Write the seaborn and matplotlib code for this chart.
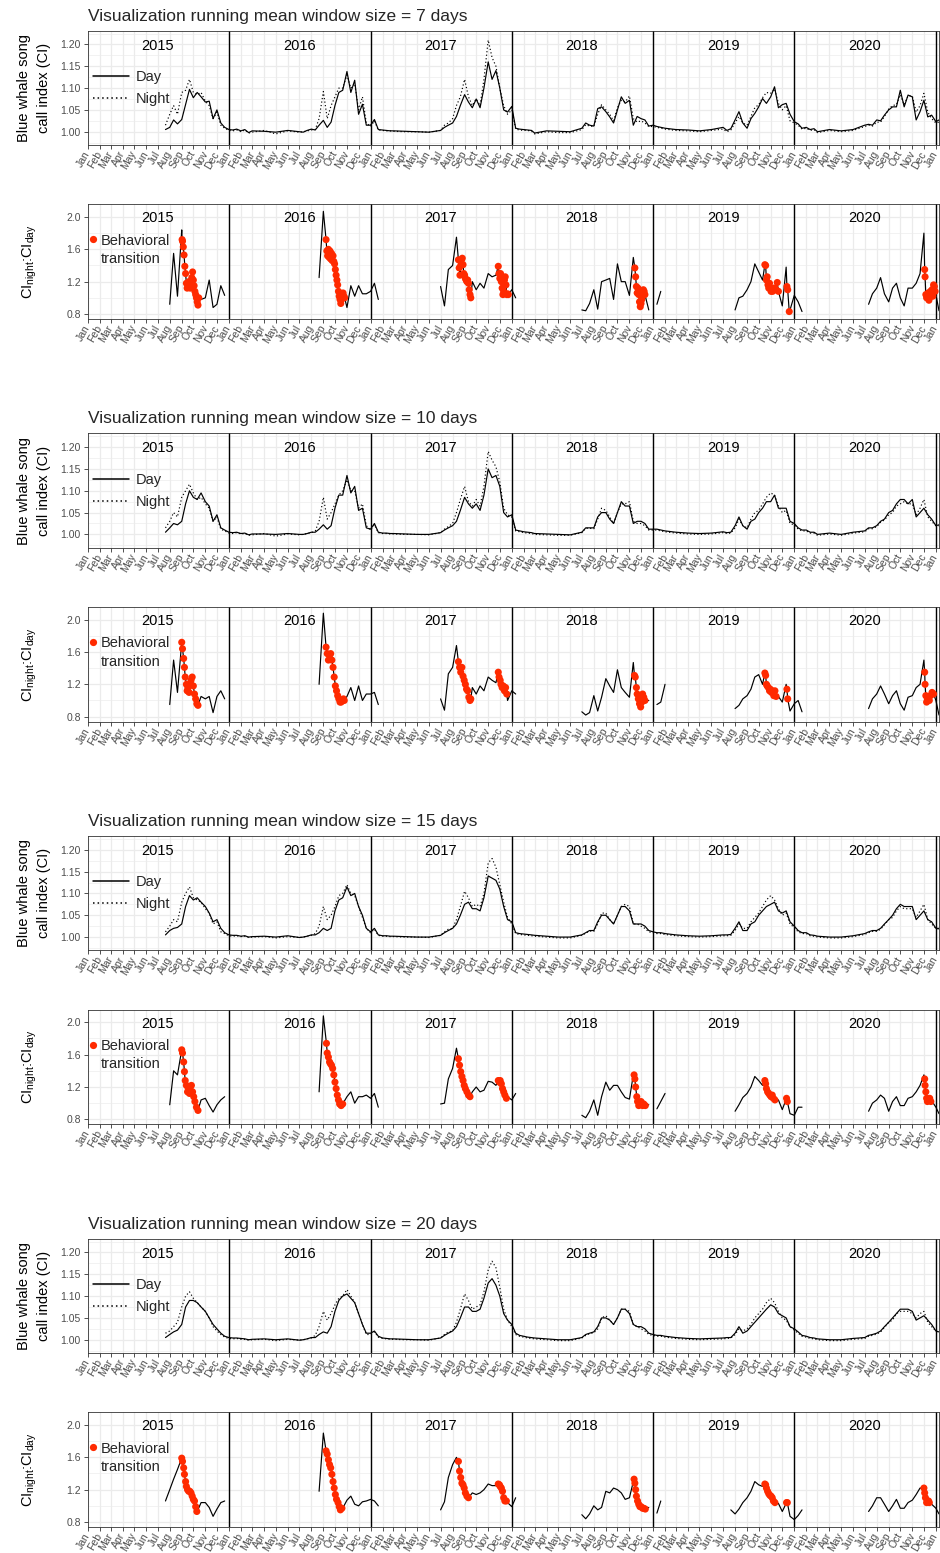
import numpy as np
import pandas as pd
import matplotlib
matplotlib.use("Agg")
import matplotlib.pyplot as plt
import matplotlib.dates as mdates
from matplotlib.lines import Line2D
from matplotlib.ticker import FormatStrFormatter
import seaborn as sns

N = np.nan
years = [2015, 2016, 2017, 2018, 2019, 2020]
grid_md = ["01-01", "01-11", "01-21", "02-01", "02-11", "02-21", "03-01", "04-01", "05-01", "06-01",
           "07-01", "07-11", "07-21", "08-01", "08-11", "08-21", "09-01", "09-11", "09-21",
           "10-01", "10-11", "10-21", "11-01", "11-11", "11-21", "12-01", "12-11", "12-21"]
grid_dates = [f"{y}-{md}" for y in years for md in grid_md] + ["2021-01-01", "2021-01-09"]
windows = [7, 10, 15, 20]
ci_ticks = [1.00, 1.05, 1.10, 1.15, 1.20]
ci_minor = [0.975, 1.025, 1.075, 1.125, 1.175, 1.225]
ratio_ticks = [0.8, 1.2, 1.6, 2.0]
ratio_minor = [1.0, 1.4, 1.8]

# ---------------- window 7 ----------------
day7 = ([N] * 12 + [1.005, 1.010, 1.027, 1.018, 1.028, 1.062, 1.097, 1.078, 1.090, 1.080, 1.068, 1.070, 1.030, 1.050, 1.020, 1.010] +
        [1.005, 1.004, 1.006, 1.002, 1.005, 0.998, 1.002, 1.001, 0.999, 1.003, 1.000, 0.999, 1.003, 1.006, 1.004, 1.015, 1.026, 1.010, 1.022, 1.060, 1.090, 1.095, 1.138, 1.090, 1.118, 1.040, 1.063, 1.015] +
        [1.015, 1.028, 1.005, 1.004, 1.003, 1.002, 1.002, 1.001, 1.000, 0.999, 1.003, 1.010, 1.015, 1.020, 1.035, 1.060, 1.085, 1.068, 1.055, 1.075, 1.055, 1.100, 1.160, 1.120, 1.140, 1.100, 1.050, 1.045] +
        [1.058, 1.008, 1.006, 1.005, 1.004, 1.003, 0.997, 1.002, 1.001, 1.000, 1.008, 1.020, 1.015, 1.013, 1.053, 1.057, 1.046, 1.034, 1.020, 1.050, 1.080, 1.065, 1.072, 1.015, 1.035, 1.030, 1.027, 1.013] +
        [1.015, 1.012, 1.010, 1.008, 1.007, 1.006, 1.005, 1.004, 1.002, 1.005, 1.010, 1.003, 1.007, 1.027, 1.046, 1.020, 1.008, 1.030, 1.042, 1.057, 1.076, 1.065, 1.080, 1.103, 1.055, 1.062, 1.065, 1.040] +
        [1.023, 1.018, 1.008, 1.010, 1.005, 1.007, 1.000, 1.005, 1.002, 1.005, 1.015, 1.017, 1.015, 1.027, 1.025, 1.038, 1.050, 1.057, 1.057, 1.095, 1.057, 1.084, 1.080, 1.027, 1.046, 1.072, 1.034, 1.038] +
        [1.023, 1.027])
night7 = ([N] * 12 + [1.015, 1.040, 1.060, 1.040, 1.090, 1.095, 1.120, 1.090, 1.085, 1.090, 1.070, 1.060, 1.030, 1.045, 1.015, 1.008] +
          [1.003, 1.002, 1.004, 1.000, 1.004, 0.997, 0.999, 1.003, 0.995, 1.002, 0.999, 1.000, 1.002, 1.004, 1.005, 1.030, 1.092, 1.030, 1.060, 1.080, 1.100, 1.100, 1.130, 1.100, 1.110, 1.050, 1.080, 1.020] +
          [1.012, 1.025, 1.004, 1.003, 1.002, 1.002, 1.001, 1.000, 1.000, 0.999, 1.003, 1.015, 1.020, 1.030, 1.060, 1.080, 1.120, 1.080, 1.060, 1.075, 1.060, 1.120, 1.210, 1.170, 1.150, 1.100, 1.060, 1.040] +
          [1.050, 1.006, 1.004, 1.003, 1.003, 1.001, 0.995, 1.000, 0.998, 0.998, 1.005, 1.016, 1.013, 1.012, 1.040, 1.062, 1.050, 1.040, 1.025, 1.055, 1.072, 1.068, 1.082, 1.030, 1.022, 1.025, 1.020, 1.012] +
          [1.012, 1.010, 1.008, 1.006, 1.005, 1.004, 1.003, 1.002, 1.000, 1.003, 1.006, 1.000, 1.004, 1.020, 1.035, 1.020, 1.015, 1.035, 1.055, 1.062, 1.078, 1.090, 1.088, 1.098, 1.065, 1.050, 1.060, 1.025] +
          [1.020, 1.015, 1.006, 1.008, 1.003, 1.005, 0.998, 1.003, 1.000, 1.003, 1.012, 1.015, 1.013, 1.022, 1.022, 1.035, 1.052, 1.060, 1.062, 1.085, 1.062, 1.082, 1.082, 1.045, 1.060, 1.088, 1.045, 1.030] +
          [1.020, 1.022])
ratio7 = ([N] * 13 + [0.92, 1.55, 1.02, 1.84, 1.30, 1.15, 1.22, 0.95, 0.98, 1.00, 1.22, 0.88, 0.92, 1.15, 1.03] +
          [N] * 15 + [1.25, 2.07, 1.58, 1.50, 1.40, 1.05, 1.04, 0.88, 1.15, 1.02, 1.15, 1.05, 1.05] +
          [1.08, 1.18, 0.98] + [N] * 7 + [1.14, 0.90, 1.35, 1.40, 1.75, 1.32, 1.28, 1.18, 1.20, 1.10, 1.18, 1.12, 1.30, 1.26, 1.28, 1.24, 1.08, 1.05] +
          [1.10, 1.00] + [N] * 8 + [0.85, 0.84, 0.93, 1.10, 0.86, 1.20, 1.22, 1.24, 0.98, 1.42, 1.20, 1.20, 1.03, 1.50, 1.06, 0.93, 1.04, 0.85] +
          [N, 0.92, 1.08] + [N] * 10 + [0.85, 1.00, 1.02, 1.10, 1.20, 1.42, 1.32, 1.22, 1.22, 1.10, 1.12, 1.08, 0.90, 1.38, 0.85] +
          [1.03, 0.95, 0.83] + [N] * 8 + [0.92, 1.05, 1.12, 1.25, 1.05, 0.95, 1.12, 1.18, 1.00, 0.90, 1.12, 1.12, 1.18, 1.30, 1.80, 1.04, 1.05] +
          [1.04, 0.84])
red7 = [("2015-09-02", 1.72), ("2015-09-03", 1.70), ("2015-09-05", 1.63), ("2015-09-07", 1.53), ("2015-09-09", 1.39),
        ("2015-09-11", 1.30), ("2015-09-13", 1.18), ("2015-09-15", 1.12), ("2015-09-17", 1.16), ("2015-09-19", 1.20),
        ("2015-09-21", 1.15), ("2015-09-23", 1.12), ("2015-09-25", 1.18), ("2015-09-27", 1.25), ("2015-09-29", 1.32),
        ("2015-10-01", 1.22), ("2015-10-03", 1.15), ("2015-10-05", 1.08), ("2015-10-07", 1.04), ("2015-10-09", 1.00),
        ("2015-10-11", 0.95), ("2015-10-13", 0.91), ("2015-10-15", 1.00),
        ("2016-09-08", 1.72), ("2016-09-10", 1.58), ("2016-09-12", 1.52), ("2016-09-14", 1.60), ("2016-09-16", 1.50),
        ("2016-09-18", 1.58), ("2016-09-20", 1.48), ("2016-09-22", 1.55), ("2016-09-24", 1.46), ("2016-09-26", 1.52),
        ("2016-09-28", 1.45), ("2016-09-30", 1.42), ("2016-10-02", 1.35), ("2016-10-04", 1.28), ("2016-10-06", 1.22),
        ("2016-10-08", 1.16), ("2016-10-10", 1.08), ("2016-10-12", 1.02), ("2016-10-14", 0.98), ("2016-10-16", 0.93),
        ("2016-10-18", 0.98), ("2016-10-20", 1.04), ("2016-10-22", 1.06), ("2016-10-24", 1.02), ("2016-10-26", 1.00),
        ("2017-08-16", 1.47), ("2017-08-18", 1.37), ("2017-08-20", 1.28), ("2017-08-22", 1.40), ("2017-08-24", 1.47),
        ("2017-08-26", 1.49), ("2017-08-28", 1.41), ("2017-08-30", 1.30), ("2017-09-01", 1.28), ("2017-09-03", 1.24),
        ("2017-09-05", 1.22), ("2017-09-07", 1.20), ("2017-09-09", 1.22), ("2017-09-11", 1.18), ("2017-09-13", 1.10),
        ("2017-09-15", 1.04), ("2017-09-17", 1.00),
        ("2017-11-27", 1.39), ("2017-11-29", 1.30), ("2017-12-01", 1.24), ("2017-12-03", 1.30), ("2017-12-05", 1.20),
        ("2017-12-07", 1.12), ("2017-12-09", 1.04), ("2017-12-11", 1.08), ("2017-12-13", 1.22), ("2017-12-15", 1.26),
        ("2017-12-17", 1.16), ("2017-12-19", 1.04), ("2017-12-21", 1.05), ("2017-12-23", 1.04),
        ("2018-11-15", 1.37), ("2018-11-17", 1.26), ("2018-11-19", 1.14), ("2018-11-21", 1.06), ("2018-11-23", 1.12),
        ("2018-11-25", 1.04), ("2018-11-27", 0.95), ("2018-11-29", 0.89), ("2018-12-01", 0.93), ("2018-12-03", 0.98),
        ("2018-12-05", 1.08), ("2018-12-07", 1.10), ("2018-12-09", 1.08), ("2018-12-11", 1.04),
        ("2019-10-17", 1.41), ("2019-10-19", 1.40), ("2019-10-21", 1.22), ("2019-10-23", 1.26), ("2019-10-25", 1.16),
        ("2019-10-27", 1.12), ("2019-10-29", 1.18), ("2019-10-31", 1.12), ("2019-11-02", 1.08), ("2019-11-04", 1.10),
        ("2019-11-06", 1.08), ("2019-11-08", 1.12), ("2019-11-10", 1.10), ("2019-11-12", 1.12), ("2019-11-15", 1.10),
        ("2019-11-18", 1.19), ("2019-11-21", 1.08), ("2019-12-13", 1.14), ("2019-12-15", 1.10), ("2019-12-19", 0.83),
        ("2020-12-03", 1.35), ("2020-12-04", 1.26), ("2020-12-06", 1.04), ("2020-12-08", 1.00), ("2020-12-10", 1.02),
        ("2020-12-12", 1.06), ("2020-12-14", 0.97), ("2020-12-16", 1.04), ("2020-12-18", 1.08), ("2020-12-20", 1.02),
        ("2020-12-22", 1.10), ("2020-12-24", 1.02), ("2020-12-26", 1.16), ("2020-12-28", 1.14), ("2020-12-30", 1.08)]

# ---------------- window 10 ----------------
day10 = ([N] * 12 + [1.005, 1.015, 1.025, 1.022, 1.030, 1.070, 1.100, 1.085, 1.080, 1.095, 1.075, 1.065, 1.030, 1.045, 1.015, 1.010] +
         [1.005, 1.004, 1.005, 1.002, 1.003, 0.999, 1.001, 1.001, 1.000, 1.002, 1.000, 1.000, 1.002, 1.005, 1.005, 1.012, 1.022, 1.012, 1.020, 1.060, 1.090, 1.090, 1.135, 1.095, 1.110, 1.055, 1.060, 1.015] +
         [1.012, 1.025, 1.005, 1.003, 1.003, 1.002, 1.002, 1.001, 1.000, 1.000, 1.004, 1.010, 1.015, 1.020, 1.030, 1.055, 1.085, 1.070, 1.060, 1.070, 1.055, 1.090, 1.150, 1.130, 1.135, 1.110, 1.050, 1.040] +
         [1.045, 1.010, 1.008, 1.006, 1.005, 1.004, 1.002, 1.001, 1.000, 0.999, 1.005, 1.015, 1.015, 1.015, 1.040, 1.050, 1.050, 1.035, 1.025, 1.050, 1.075, 1.065, 1.065, 1.025, 1.030, 1.030, 1.025, 1.012] +
         [1.012, 1.012, 1.010, 1.008, 1.007, 1.006, 1.005, 1.003, 1.002, 1.003, 1.006, 1.004, 1.005, 1.020, 1.040, 1.020, 1.012, 1.030, 1.035, 1.050, 1.060, 1.075, 1.075, 1.090, 1.060, 1.060, 1.060, 1.030] +
         [1.025, 1.015, 1.010, 1.010, 1.005, 1.005, 1.000, 1.003, 1.000, 1.005, 1.008, 1.015, 1.015, 1.020, 1.030, 1.035, 1.050, 1.055, 1.070, 1.080, 1.080, 1.070, 1.080, 1.040, 1.050, 1.060, 1.045, 1.035] +
         [1.020, 1.022])
night10 = ([N] * 12 + [1.015, 1.030, 1.050, 1.040, 1.085, 1.100, 1.115, 1.095, 1.080, 1.085, 1.070, 1.060, 1.030, 1.040, 1.012, 1.008] +
           [1.003, 1.002, 1.004, 1.001, 1.002, 0.998, 0.999, 1.002, 0.996, 1.001, 0.999, 1.000, 1.002, 1.004, 1.008, 1.030, 1.085, 1.035, 1.050, 1.070, 1.090, 1.100, 1.125, 1.100, 1.100, 1.060, 1.070, 1.020] +
           [1.010, 1.022, 1.004, 1.002, 1.002, 1.001, 1.001, 1.000, 1.000, 0.999, 1.004, 1.012, 1.018, 1.025, 1.050, 1.080, 1.110, 1.075, 1.065, 1.080, 1.065, 1.110, 1.190, 1.170, 1.155, 1.120, 1.060, 1.045] +
           [1.040, 1.008, 1.006, 1.004, 1.003, 1.002, 1.000, 0.999, 0.998, 0.998, 1.004, 1.014, 1.014, 1.013, 1.035, 1.060, 1.055, 1.040, 1.025, 1.050, 1.070, 1.070, 1.075, 1.030, 1.025, 1.025, 1.020, 1.010] +
           [1.010, 1.010, 1.008, 1.006, 1.005, 1.004, 1.003, 1.001, 1.000, 1.001, 1.004, 1.002, 1.003, 1.015, 1.035, 1.020, 1.015, 1.035, 1.050, 1.055, 1.070, 1.085, 1.095, 1.090, 1.065, 1.050, 1.055, 1.025] +
           [1.022, 1.012, 1.008, 1.008, 1.003, 1.003, 0.998, 1.001, 0.998, 1.003, 1.006, 1.013, 1.013, 1.018, 1.028, 1.033, 1.045, 1.050, 1.065, 1.070, 1.075, 1.070, 1.070, 1.045, 1.060, 1.080, 1.040, 1.030] +
           [1.020, 1.020])
ratio10 = ([N] * 13 + [0.95, 1.50, 1.10, 1.74, 1.26, 1.12, 1.18, 0.95, 1.05, 1.02, 1.05, 0.85, 1.05, 1.12, 1.02] +
           [N] * 15 + [1.20, 2.08, 1.58, 1.55, 1.22, 1.02, 1.00, 1.05, 1.16, 1.00, 1.18, 1.00, 1.08] +
           [1.08, 1.10, 0.95] + [N] * 7 + [1.02, 0.88, 1.33, 1.41, 1.68, 1.38, 1.28, 1.10, 1.16, 1.08, 1.18, 1.12, 1.29, 1.25, 1.22, 1.26, 1.16, 1.00] +
           [1.12, 1.08] + [N] * 8 + [0.86, 0.82, 0.85, 1.06, 0.87, 1.04, 1.27, 1.18, 1.10, 1.38, 1.16, 1.10, 1.04, 1.47, 1.08, 0.94, 1.00, 1.00] +
           [N, 0.95, 0.98, 1.20] + [N] * 9 + [0.90, 0.94, 1.02, 1.06, 1.14, 1.29, 1.32, 1.20, 1.20, 1.14, 1.12, 1.05, 0.98, 1.20, 0.87] +
           [0.96, 1.00, 0.86] + [N] * 8 + [0.90, 1.02, 1.08, 1.18, 1.08, 0.96, 1.06, 1.12, 0.96, 0.88, 1.04, 1.06, 1.16, 1.20, 1.50, 1.03, 1.08] +
           [1.00, 0.82])
red10 = [("2015-09-01", 1.72), ("2015-09-03", 1.64), ("2015-09-06", 1.52), ("2015-09-08", 1.41), ("2015-09-10", 1.29),
         ("2015-09-13", 1.20), ("2015-09-15", 1.12), ("2015-09-17", 1.16), ("2015-09-20", 1.10), ("2015-09-22", 1.20),
         ("2015-09-25", 1.25), ("2015-09-28", 1.29), ("2015-10-01", 1.18), ("2015-10-04", 1.08), ("2015-10-07", 1.02),
         ("2015-10-10", 0.96), ("2015-10-13", 0.94),
         ("2016-09-08", 1.66), ("2016-09-11", 1.58), ("2016-09-14", 1.50), ("2016-09-17", 1.56), ("2016-09-20", 1.58),
         ("2016-09-23", 1.50), ("2016-09-26", 1.41), ("2016-09-29", 1.29), ("2016-10-02", 1.18), ("2016-10-05", 1.12),
         ("2016-10-08", 1.06), ("2016-10-11", 1.02), ("2016-10-14", 0.98), ("2016-10-17", 0.98), ("2016-10-20", 1.00),
         ("2016-10-23", 1.02), ("2016-10-25", 1.00),
         ("2017-08-16", 1.48), ("2017-08-19", 1.41), ("2017-08-22", 1.35), ("2017-08-25", 1.41), ("2017-08-28", 1.30),
         ("2017-08-31", 1.25), ("2017-09-03", 1.20), ("2017-09-06", 1.14), ("2017-09-09", 1.12), ("2017-09-12", 1.04),
         ("2017-09-15", 1.00), ("2017-09-17", 1.02),
         ("2017-11-27", 1.35), ("2017-11-29", 1.29), ("2017-12-02", 1.25), ("2017-12-04", 1.20), ("2017-12-07", 1.16),
         ("2017-12-10", 1.18), ("2017-12-13", 1.12), ("2017-12-16", 1.16), ("2017-12-19", 1.08),
         ("2018-11-14", 1.31), ("2018-11-16", 1.29), ("2018-11-19", 1.16), ("2018-11-21", 1.08), ("2018-11-24", 1.02),
         ("2018-11-27", 0.96), ("2018-11-30", 0.92), ("2018-12-03", 0.98), ("2018-12-05", 1.08), ("2018-12-08", 1.04),
         ("2018-12-11", 1.00),
         ("2019-10-17", 1.34), ("2019-10-19", 1.31), ("2019-10-21", 1.20), ("2019-10-23", 1.18), ("2019-10-26", 1.16),
         ("2019-10-29", 1.12), ("2019-10-31", 1.14), ("2019-11-03", 1.10), ("2019-11-05", 1.12), ("2019-11-09", 1.06),
         ("2019-11-12", 1.12), ("2019-11-15", 1.05), ("2019-12-13", 1.14), ("2019-12-15", 1.02),
         ("2020-12-03", 1.35), ("2020-12-04", 1.20), ("2020-12-06", 1.06), ("2020-12-08", 0.98), ("2020-12-10", 1.02),
         ("2020-12-12", 1.04), ("2020-12-15", 1.00), ("2020-12-18", 1.06), ("2020-12-22", 1.10), ("2020-12-26", 1.08)]

# ---------------- window 15 ----------------
day15 = ([N] * 12 + [1.005, 1.015, 1.020, 1.022, 1.030, 1.070, 1.095, 1.085, 1.090, 1.080, 1.070, 1.055, 1.035, 1.040, 1.020, 1.010] +
         [1.005, 1.004, 1.004, 1.002, 1.003, 1.000, 1.001, 1.002, 1.000, 1.003, 0.999, 1.000, 1.002, 1.005, 1.005, 1.010, 1.020, 1.015, 1.020, 1.060, 1.085, 1.090, 1.115, 1.095, 1.100, 1.070, 1.050, 1.020] +
         [1.012, 1.020, 1.005, 1.003, 1.003, 1.002, 1.002, 1.001, 1.000, 1.000, 1.004, 1.010, 1.015, 1.020, 1.030, 1.050, 1.075, 1.080, 1.065, 1.065, 1.060, 1.090, 1.140, 1.135, 1.130, 1.110, 1.070, 1.040] +
         [1.035, 1.010, 1.008, 1.007, 1.006, 1.005, 1.004, 1.002, 1.000, 1.000, 1.005, 1.010, 1.015, 1.015, 1.035, 1.050, 1.050, 1.040, 1.030, 1.050, 1.070, 1.070, 1.060, 1.030, 1.030, 1.030, 1.025, 1.015] +
         [1.012, 1.010, 1.010, 1.008, 1.007, 1.006, 1.005, 1.003, 1.002, 1.003, 1.005, 1.005, 1.006, 1.020, 1.035, 1.015, 1.015, 1.030, 1.035, 1.050, 1.060, 1.070, 1.075, 1.080, 1.060, 1.055, 1.060, 1.035] +
         [1.025, 1.015, 1.010, 1.010, 1.005, 1.004, 1.002, 1.000, 1.000, 1.003, 1.008, 1.012, 1.015, 1.015, 1.020, 1.030, 1.040, 1.050, 1.065, 1.075, 1.070, 1.070, 1.070, 1.040, 1.050, 1.060, 1.040, 1.035] +
         [1.020, 1.020])
night15 = ([N] * 12 + [1.012, 1.025, 1.040, 1.035, 1.080, 1.100, 1.115, 1.090, 1.085, 1.080, 1.065, 1.055, 1.030, 1.035, 1.012, 1.008] +
           [1.003, 1.002, 1.003, 1.001, 1.002, 0.999, 1.000, 1.001, 0.998, 1.001, 0.999, 1.000, 1.002, 1.004, 1.008, 1.025, 1.070, 1.040, 1.050, 1.070, 1.095, 1.100, 1.120, 1.100, 1.095, 1.070, 1.045, 1.020] +
           [1.010, 1.018, 1.004, 1.002, 1.002, 1.001, 1.001, 1.000, 1.000, 0.999, 1.004, 1.012, 1.018, 1.020, 1.040, 1.070, 1.105, 1.090, 1.070, 1.075, 1.070, 1.100, 1.170, 1.180, 1.160, 1.120, 1.080, 1.045] +
           [1.030, 1.008, 1.006, 1.005, 1.004, 1.003, 1.002, 1.000, 0.998, 0.998, 1.004, 1.009, 1.014, 1.013, 1.030, 1.055, 1.055, 1.040, 1.030, 1.050, 1.070, 1.075, 1.070, 1.030, 1.030, 1.025, 1.020, 1.012] +
           [1.010, 1.008, 1.008, 1.006, 1.005, 1.004, 1.003, 1.001, 1.000, 1.001, 1.003, 1.003, 1.004, 1.015, 1.030, 1.020, 1.020, 1.035, 1.045, 1.055, 1.070, 1.085, 1.095, 1.085, 1.065, 1.050, 1.055, 1.030] +
           [1.022, 1.012, 1.008, 1.008, 1.003, 1.002, 1.000, 0.998, 0.998, 1.001, 1.006, 1.010, 1.013, 1.013, 1.018, 1.028, 1.040, 1.045, 1.060, 1.070, 1.065, 1.065, 1.065, 1.045, 1.060, 1.075, 1.040, 1.030] +
           [1.020, 1.018])
ratio15 = ([N] * 13 + [0.98, 1.40, 1.35, 1.66, 1.26, 1.12, 1.12, 0.95, 1.04, 1.06, 0.97, 0.89, 0.98, 1.04, 1.08] +
           [N] * 15 + [1.14, 2.08, 1.62, 1.47, 1.26, 1.04, 0.99, 1.08, 1.14, 1.00, 1.08, 1.08, 1.10] +
           [1.06, 1.12, 0.95] + [N] * 7 + [0.99, 1.00, 1.30, 1.43, 1.68, 1.37, 1.20, 1.10, 1.14, 1.20, 1.14, 1.16, 1.27, 1.26, 1.22, 1.27, 1.14, 1.08] +
           [1.04, 1.12] + [N] * 8 + [0.85, 0.82, 0.90, 1.04, 0.85, 1.08, 1.26, 1.16, 1.22, 1.22, 1.14, 1.07, 1.05, 1.35, 1.05, 1.02, 0.98, 0.98] +
           [N, 0.93, 1.02, 1.12] + [N] * 9 + [0.90, 0.98, 1.07, 1.12, 1.20, 1.33, 1.28, 1.22, 1.24, 1.12, 1.09, 1.04, 0.92, 1.05, 0.87] +
           [0.85, 0.95, 0.95] + [N] * 8 + [0.90, 1.00, 1.04, 1.10, 1.06, 0.90, 1.02, 1.08, 0.97, 0.97, 1.06, 1.08, 1.14, 1.22, 1.35, 1.04, 1.03] +
           [0.95, 0.87])
red15 = [("2015-09-01", 1.66), ("2015-09-03", 1.62), ("2015-09-06", 1.51), ("2015-09-08", 1.39), ("2015-09-10", 1.28),
         ("2015-09-13", 1.22), ("2015-09-16", 1.14), ("2015-09-18", 1.18), ("2015-09-21", 1.12), ("2015-09-23", 1.20),
         ("2015-09-26", 1.22), ("2015-09-29", 1.14), ("2015-10-02", 1.08), ("2015-10-05", 1.02), ("2015-10-09", 0.95),
         ("2015-10-13", 0.91),
         ("2016-09-09", 1.74), ("2016-09-11", 1.62), ("2016-09-14", 1.57), ("2016-09-17", 1.51), ("2016-09-19", 1.49),
         ("2016-09-22", 1.47), ("2016-09-25", 1.43), ("2016-09-28", 1.35), ("2016-10-01", 1.26), ("2016-10-04", 1.18),
         ("2016-10-07", 1.10), ("2016-10-10", 1.04), ("2016-10-13", 0.99), ("2016-10-17", 0.97), ("2016-10-21", 0.99),
         ("2017-08-16", 1.55), ("2017-08-19", 1.47), ("2017-08-22", 1.39), ("2017-08-25", 1.33), ("2017-08-28", 1.28),
         ("2017-08-31", 1.22), ("2017-09-03", 1.18), ("2017-09-07", 1.14), ("2017-09-11", 1.10), ("2017-09-15", 1.08),
         ("2017-11-27", 1.28), ("2017-11-30", 1.26), ("2017-12-02", 1.28), ("2017-12-05", 1.24), ("2017-12-08", 1.18),
         ("2017-12-11", 1.14), ("2017-12-14", 1.10), ("2017-12-18", 1.06),
         ("2018-11-13", 1.35), ("2018-11-15", 1.30), ("2018-11-17", 1.20), ("2018-11-20", 1.08), ("2018-11-22", 1.02),
         ("2018-11-25", 0.97), ("2018-11-28", 0.99), ("2018-12-01", 1.02), ("2018-12-05", 0.97), ("2018-12-08", 0.99),
         ("2018-12-12", 0.97),
         ("2019-10-17", 1.28), ("2019-10-19", 1.24), ("2019-10-21", 1.18), ("2019-10-24", 1.14), ("2019-10-27", 1.12),
         ("2019-10-30", 1.10), ("2019-11-02", 1.08), ("2019-11-05", 1.10), ("2019-11-08", 1.06), ("2019-11-12", 1.04),
         ("2019-12-12", 1.06), ("2019-12-14", 1.02),
         ("2020-12-03", 1.30), ("2020-12-04", 1.22), ("2020-12-06", 1.14), ("2020-12-08", 1.06), ("2020-12-10", 1.02),
         ("2020-12-13", 1.04), ("2020-12-16", 1.06), ("2020-12-19", 1.02)]

# ---------------- window 20 ----------------
day20 = ([N] * 12 + [1.005, 1.012, 1.018, 1.022, 1.035, 1.075, 1.090, 1.090, 1.085, 1.075, 1.065, 1.050, 1.035, 1.025, 1.015, 1.008] +
         [1.005, 1.004, 1.004, 1.003, 1.002, 1.000, 1.001, 1.002, 1.000, 1.002, 0.999, 1.000, 1.002, 1.005, 1.005, 1.012, 1.018, 1.015, 1.030, 1.065, 1.090, 1.100, 1.105, 1.095, 1.085, 1.060, 1.035, 1.015] +
         [1.015, 1.020, 1.008, 1.004, 1.003, 1.002, 1.002, 1.001, 1.000, 1.000, 1.004, 1.010, 1.015, 1.020, 1.030, 1.050, 1.075, 1.075, 1.065, 1.065, 1.070, 1.095, 1.130, 1.140, 1.125, 1.100, 1.060, 1.045] +
         [1.035, 1.015, 1.010, 1.008, 1.006, 1.005, 1.004, 1.002, 1.000, 1.000, 1.005, 1.012, 1.015, 1.018, 1.030, 1.050, 1.050, 1.045, 1.035, 1.050, 1.070, 1.070, 1.060, 1.035, 1.030, 1.030, 1.025, 1.015] +
         [1.012, 1.010, 1.010, 1.008, 1.007, 1.006, 1.005, 1.003, 1.002, 1.003, 1.004, 1.005, 1.005, 1.015, 1.030, 1.015, 1.020, 1.030, 1.040, 1.050, 1.060, 1.070, 1.080, 1.075, 1.060, 1.055, 1.050, 1.030] +
         [1.025, 1.018, 1.010, 1.008, 1.005, 1.004, 1.002, 1.000, 1.000, 1.003, 1.005, 1.010, 1.012, 1.015, 1.020, 1.030, 1.040, 1.050, 1.060, 1.070, 1.070, 1.070, 1.065, 1.045, 1.050, 1.055, 1.045, 1.035] +
         [1.020, 1.018])
night20 = ([N] * 12 + [1.015, 1.020, 1.030, 1.040, 1.075, 1.100, 1.110, 1.095, 1.085, 1.075, 1.065, 1.050, 1.030, 1.020, 1.012, 1.006] +
           [1.003, 1.002, 1.003, 1.001, 1.001, 0.999, 1.000, 1.001, 0.998, 1.001, 0.999, 1.000, 1.002, 1.004, 1.010, 1.030, 1.065, 1.045, 1.060, 1.080, 1.095, 1.100, 1.115, 1.100, 1.085, 1.060, 1.035, 1.012] +
           [1.012, 1.018, 1.006, 1.003, 1.002, 1.001, 1.001, 1.000, 1.000, 0.999, 1.004, 1.012, 1.018, 1.020, 1.040, 1.070, 1.105, 1.090, 1.070, 1.075, 1.080, 1.110, 1.160, 1.180, 1.165, 1.120, 1.070, 1.045] +
           [1.030, 1.012, 1.008, 1.006, 1.004, 1.003, 1.002, 1.000, 0.998, 0.998, 1.004, 1.010, 1.014, 1.016, 1.025, 1.050, 1.055, 1.045, 1.035, 1.050, 1.070, 1.070, 1.065, 1.035, 1.030, 1.025, 1.020, 1.012] +
           [1.010, 1.008, 1.008, 1.006, 1.005, 1.004, 1.003, 1.001, 1.000, 1.001, 1.002, 1.003, 1.004, 1.012, 1.025, 1.020, 1.025, 1.035, 1.050, 1.060, 1.070, 1.085, 1.095, 1.085, 1.065, 1.050, 1.045, 1.030] +
           [1.022, 1.015, 1.008, 1.006, 1.003, 1.002, 1.000, 0.998, 0.998, 1.001, 1.003, 1.008, 1.010, 1.013, 1.018, 1.028, 1.040, 1.045, 1.060, 1.065, 1.065, 1.065, 1.060, 1.050, 1.060, 1.065, 1.040, 1.030] +
           [1.020, 1.016])
ratio20 = ([N] * 12 + [1.06, 1.20, 1.33, 1.45, 1.59, 1.30, 1.18, 1.08, 0.93, 1.04, 1.04, 0.98, 0.87, 0.96, 1.04, 1.06] +
           [N] * 15 + [1.18, 1.90, 1.64, 1.47, 1.22, 1.02, 0.97, 1.07, 1.12, 1.02, 1.00, 1.05, 1.06] +
           [1.08, 1.06, 1.00] + [N] * 7 + [0.95, 1.05, 1.35, 1.51, 1.60, 1.35, 1.20, 1.10, 1.16, 1.14, 1.16, 1.20, 1.27, 1.25, 1.25, 1.24, 1.10, 1.04] +
           [0.99, 1.10] + [N] * 8 + [0.89, 0.84, 0.90, 1.00, 0.95, 0.98, 1.18, 1.16, 1.22, 1.20, 1.16, 1.08, 1.10, 1.30, 1.06, 0.99, 0.97, 0.98] +
           [N, 0.91, 1.06] + [N] * 9 + [0.95, 0.90, 0.96, 1.04, 1.10, 1.18, 1.30, 1.26, 1.24, 1.22, 1.12, 1.06, 1.03, 0.93, 1.03, 0.87] +
           [0.83, 0.88, 0.95] + [N] * 8 + [0.93, 1.00, 1.10, 1.10, 1.02, 0.93, 1.00, 1.08, 0.97, 0.97, 1.04, 1.07, 1.14, 1.22, 1.22, 1.05, 1.02] +
           [0.97, 0.90])
red20 = [("2015-09-01", 1.59), ("2015-09-03", 1.55), ("2015-09-06", 1.47), ("2015-09-08", 1.39), ("2015-09-11", 1.30),
         ("2015-09-13", 1.24), ("2015-09-16", 1.20), ("2015-09-19", 1.18), ("2015-09-22", 1.18), ("2015-09-25", 1.16),
         ("2015-09-28", 1.12), ("2015-10-01", 1.08), ("2015-10-04", 1.06), ("2015-10-07", 0.99), ("2015-10-10", 0.93),
         ("2016-09-08", 1.68), ("2016-09-11", 1.64), ("2016-09-14", 1.57), ("2016-09-17", 1.51), ("2016-09-20", 1.47),
         ("2016-09-23", 1.39), ("2016-09-26", 1.30), ("2016-09-29", 1.22), ("2016-10-02", 1.14), ("2016-10-05", 1.08),
         ("2016-10-09", 1.04), ("2016-10-12", 0.99), ("2016-10-15", 0.95), ("2016-10-19", 0.97),
         ("2017-08-16", 1.55), ("2017-08-19", 1.43), ("2017-08-22", 1.35), ("2017-08-25", 1.28), ("2017-08-28", 1.26),
         ("2017-08-31", 1.22), ("2017-09-03", 1.16), ("2017-09-07", 1.12), ("2017-09-11", 1.10),
         ("2017-11-27", 1.27), ("2017-11-30", 1.26), ("2017-12-02", 1.24), ("2017-12-05", 1.22), ("2017-12-08", 1.18),
         ("2017-12-11", 1.10), ("2017-12-14", 1.06), ("2017-12-18", 1.06),
         ("2018-11-13", 1.33), ("2018-11-15", 1.28), ("2018-11-17", 1.20), ("2018-11-19", 1.12), ("2018-11-22", 1.06),
         ("2018-11-25", 1.02), ("2018-11-28", 0.99), ("2018-12-01", 0.99), ("2018-12-05", 0.97), ("2018-12-08", 0.97),
         ("2018-12-12", 0.96),
         ("2019-10-17", 1.27), ("2019-10-19", 1.26), ("2019-10-21", 1.22), ("2019-10-24", 1.18), ("2019-10-27", 1.15),
         ("2019-10-30", 1.13), ("2019-11-02", 1.12), ("2019-11-05", 1.10), ("2019-11-08", 1.06), ("2019-11-12", 1.04),
         ("2019-12-12", 1.04), ("2019-12-14", 1.04),
         ("2020-12-01", 1.22), ("2020-12-03", 1.16), ("2020-12-05", 1.10), ("2020-12-08", 1.04), ("2020-12-10", 1.06),
         ("2020-12-13", 1.06), ("2020-12-15", 1.04)]

for name, arr in [("day7", day7), ("night7", night7), ("ratio7", ratio7), ("day10", day10), ("night10", night10),
                  ("ratio10", ratio10), ("day15", day15), ("night15", night15), ("ratio15", ratio15),
                  ("day20", day20), ("night20", night20), ("ratio20", ratio20)]:
    assert len(arr) == len(grid_dates), (name, len(arr))

# ---------------- style ----------------
sns.set_theme(style="white")
plt.rcParams["font.family"] = ["Liberation Sans", "DejaVu Sans"]
plt.rcParams["mathtext.fontset"] = "custom"
plt.rcParams["mathtext.rm"] = "Liberation Sans"
plt.rcParams["mathtext.it"] = "Liberation Sans:italic"
plt.rcParams["mathtext.bf"] = "Liberation Sans:bold"

W_PX, H_PX = 940, 1553
fig = plt.figure(figsize=(W_PX / 100, H_PX / 100), dpi=100)
fig.patch.set_facecolor("white")
L_PX, R_PX = 87.7, 939.0
SEC = 402.67
RED = "#FF2A00"
GRIDC = "#EBEBEB"
X0, X1 = pd.Timestamp("2015-01-01"), pd.Timestamp("2021-01-09")
dates = pd.to_datetime(grid_dates)


def box(top_px, h_px):
    return [L_PX / W_PX, 1 - (top_px + h_px) / H_PX, (R_PX - L_PX) / W_PX, h_px / H_PX]


def style_axis(ax, ticks, minor, ylim, fmt):
    ax.set_xlim(X0, X1)
    ax.set_ylim(*ylim)
    ax.xaxis.set_major_locator(mdates.MonthLocator())
    ax.xaxis.set_major_formatter(mdates.DateFormatter("%b"))
    ax.set_yticks(ticks)
    ax.set_yticks(minor, minor=True)
    ax.yaxis.set_major_formatter(FormatStrFormatter(fmt))
    ax.grid(True, which="major", color=GRIDC, lw=0.9)
    ax.grid(True, which="minor", axis="y", color=GRIDC, lw=0.45)
    ax.set_axisbelow(True)
    for s in ax.spines.values():
        s.set_color("#333333")
        s.set_linewidth(0.6)
        s.set_visible(True)
    ax.tick_params(axis="both", which="major", length=2.75, width=0.6, color="#333333",
                   labelsize=7.5, labelcolor="#4D4D4D", pad=2.2, bottom=True, left=True)
    ax.tick_params(axis="y", which="minor", length=0)
    for lab in ax.get_xticklabels():
        lab.set_rotation(60)
        lab.set_ha("right")
        lab.set_va("center")
        lab.set_rotation_mode("anchor")
    ax.set_xlabel("")
    for y in years[1:] + [2021]:
        ax.axvline(pd.Timestamp(f"{y}-01-01"), color="black", lw=1.0, zorder=2.2)


panels = [(7, day7, night7, ratio7, red7), (10, day10, night10, ratio10, red10),
          (15, day15, night15, ratio15, red15), (20, day20, night20, ratio20, red20)]

for k, (w, day, night, ratio, red) in enumerate(panels):
    off = SEC * k
    fig.text(L_PX / W_PX, 1 - (20.7 + off) / H_PX, f"Visualization running mean window size = {w} days",
             fontsize=12.5, ha="left", va="baseline")

    # --- call index panel ---
    ax1 = fig.add_axes(box(30.7 + off, 114.3))
    ci = pd.DataFrame({"date": dates, "Day": day, "Night": night})
    d = ci.dropna(subset=["Day"])
    sns.lineplot(data=d, x="date", y="Day", ax=ax1, color="black", linewidth=0.85, estimator=None)
    d = ci.dropna(subset=["Night"])
    sns.lineplot(data=d, x="date", y="Night", ax=ax1, color="black", linewidth=0.85,
                 linestyle=(0, (1, 2)), estimator=None)
    style_axis(ax1, ci_ticks, ci_minor, (0.9696, 1.2315), "%.2f")
    ax1.set_ylabel("Blue whale song\ncall index (CI)", fontsize=10.5, color="black", linespacing=1.55)
    ax1.yaxis.set_label_coords(-0.0435, 0.5)
    for y in years:
        ax1.text(pd.Timestamp(f"{y}-07-01"), 1.197, str(y), ha="center", va="center", fontsize=10.5, color="black")
    ax1.legend(handles=[Line2D([], [], color="black", lw=1.1, label="Day"),
                        Line2D([], [], color="black", lw=1.1, ls=(0, (1, 2)), label="Night")],
               loc="upper left", bbox_to_anchor=(0.0062, 0.655), frameon=False, fontsize=10.5,
               handlelength=2.45, handletextpad=0.45, borderpad=0, borderaxespad=0, labelspacing=0.55)

    # --- ratio panel ---
    ax2 = fig.add_axes(box(204.3 + off, 114.7))
    g = pd.DataFrame({"date": dates, "ratio": ratio})
    r = pd.DataFrame(red, columns=["date", "ratio"])
    r["date"] = pd.to_datetime(r["date"])
    g = g[~g["date"].isin(r["date"])]
    m = pd.concat([g, r]).sort_values("date").reset_index(drop=True)
    m["seg"] = m["ratio"].isna().cumsum()
    m = m.dropna()
    sns.lineplot(data=m, x="date", y="ratio", units="seg", estimator=None, color="black",
                 linewidth=0.85, ax=ax2)
    sns.scatterplot(data=r, x="date", y="ratio", color=RED, s=26, edgecolor="none", ax=ax2, zorder=3)
    style_axis(ax2, ratio_ticks, ratio_minor, (0.738, 2.157), "%.1f")
    ax2.set_ylabel(r"CI$_{\mathrm{night}}$:CI$_{\mathrm{day}}$", fontsize=10.5, color="black")
    ax2.yaxis.set_label_coords(-0.0568, 0.5)
    for y in years:
        ax2.text(pd.Timestamp(f"{y}-07-01"), 1.985, str(y), ha="center", va="center", fontsize=10.5, color="black")
    ax2.legend([Line2D([], [], ls="none", marker="o", color=RED, markersize=5.2, markeredgewidth=0),
                Line2D([], [], ls="none")], ["Behavioral", "transition"],
               loc="upper left", bbox_to_anchor=(0.0015, 0.745), frameon=False, fontsize=10.5,
               handlelength=0.55, handletextpad=0.25, borderpad=0, borderaxespad=0, labelspacing=0.3)

fig.savefig("out.png", dpi=100, facecolor="white")
